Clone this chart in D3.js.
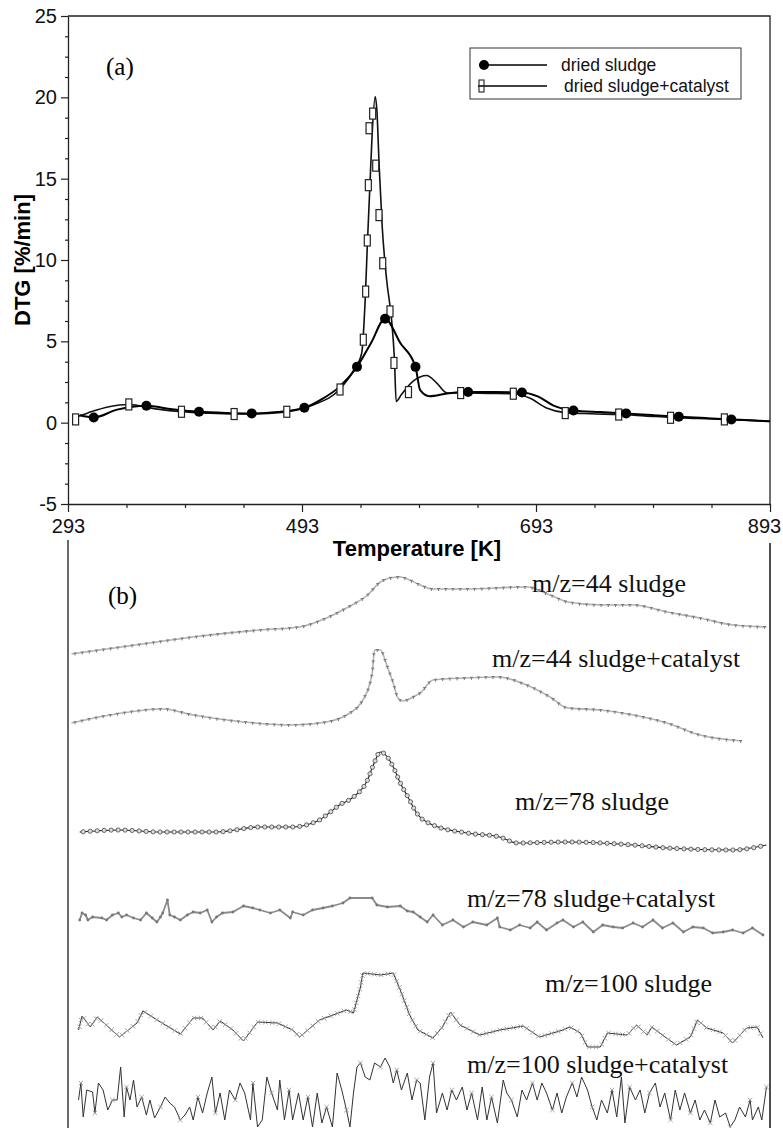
<!DOCTYPE html>
<html>
<head>
<meta charset="utf-8">
<script src="https://cdn.jsdelivr.net/npm/d3@7"></script>
<style>
  body { margin: 0; background: #fff; }
  svg { display: block; }
</style>
</head>
<body>
<div id="chart"></div>
<script>
// ---- panel (a) data: DTG [%/min] vs temperature [K]
var sludgeT = [303, 315, 335, 360, 382, 405, 428, 450, 472, 495, 510, 525, 540, 552, 564, 577, 590, 594, 602, 617, 635, 658, 681, 695, 708, 725, 748, 770, 792, 815, 838, 860, 876, 893];
var sludgeV = [0.45, 0.32, 0.8, 1.04, 0.82, 0.67, 0.6, 0.57, 0.65, 0.92, 1.45, 2.2, 3.43, 4.9, 6.39, 4.9, 3.43, 2.0, 1.63, 1.8, 1.88, 1.88, 1.86, 1.6, 1.05, 0.75, 0.65, 0.57, 0.47, 0.37, 0.28, 0.2, 0.15, 0.08];
var sludgeMarkT = [315, 360, 405, 450, 495, 540, 564, 590, 635, 681, 725, 770, 815, 860];
var sludgeMarkV = [0.32, 1.04, 0.67, 0.57, 0.92, 3.43, 6.39, 3.43, 1.88, 1.86, 0.75, 0.57, 0.37, 0.2];

var catT = [298, 310, 328, 345, 368, 390, 412, 435, 458, 480, 503, 525, 537, 544, 547, 549, 551, 553, 555.6, 557, 559, 561.6, 565.3, 569.6, 572, 573.5, 578, 588, 599.6, 608, 617, 629, 652, 674, 688, 702, 718, 740, 764, 786, 808, 831, 854, 875, 893];
var catV = [0.3, 0.6, 0.98, 1.12, 0.85, 0.67, 0.58, 0.53, 0.55, 0.67, 1.1, 2.04, 3.2, 4.27, 7.55, 11.2, 14.5, 17.8, 20.05, 19.2, 15.7, 12.0, 8.8, 6.3, 3.9, 1.3, 1.73, 2.55, 2.9, 2.45, 1.82, 1.82, 1.8, 1.78, 1.5, 0.9, 0.62, 0.55, 0.5, 0.42, 0.32, 0.26, 0.2, 0.14, 0.08];
var catMarkT = [299.5, 345, 390, 435, 480, 525.5, 545.4, 547.4, 548.8, 549.7, 550.3, 553.4, 556, 558.8, 562, 568.2, 571.6, 584, 628.6, 673.6, 718, 763.7, 808, 854];
var catMarkV = [0.2, 1.12, 0.67, 0.53, 0.67, 2.04, 5.1, 8.06, 11.2, 14.6, 18.1, 19.0, 15.8, 12.76, 9.8, 6.84, 3.67, 1.88, 1.82, 1.78, 0.59, 0.5, 0.3, 0.2];

var legendNames = ["dried sludge", "dried sludge+catalyst"];
var xMajor = [293, 493, 693, 893];
var xMinor = [343, 393, 443, 543, 593, 643, 743, 793, 843];
var yMajor = [-5, 0, 5, 10, 15, 20, 25];
var yMinor = [-3.75, -2.5, -1.25, 1.25, 2.5, 3.75, 6.25, 7.5, 8.75, 11.25, 12.5, 13.75, 16.25, 17.5, 18.75, 21.25, 22.5, 23.75];

// ---- panel (b) data: MS ion currents, arbitrary units
var mz44T = [296, 363, 400, 457, 491, 514, 531, 549, 560, 568, 577, 583, 594, 605, 634, 685, 705, 720, 748, 776, 805, 833, 861, 890];
var mz44V = [6, 17, 23, 30, 33, 42, 52, 65, 78, 82, 83, 81, 75, 71, 71, 73, 65, 58, 55, 55, 48, 42, 35, 33];

var mz44cT = [296, 329, 374, 400, 443, 485, 514, 531, 545, 553, 555, 560, 566, 571, 575, 579, 588, 594, 605, 634, 660, 685, 705, 720, 748, 776, 805, 833, 869];
var mz44cV = [22, 30, 36, 30, 23, 20, 23, 30, 45, 72, 95, 95, 78, 62, 47, 44, 48, 52, 65, 67, 68, 60, 48, 37, 35, 30, 22, 10, 4];

var mz78T = [303, 337, 372, 420, 457, 485, 502, 508, 514, 525, 537, 549, 554, 560, 566, 571, 577, 584, 591, 605, 634, 662, 677, 719, 776, 805, 861, 890];
var mz78V = [23, 25, 23, 23, 28, 28, 32, 35, 40, 50, 58, 75, 90, 103, 98, 88, 72, 57, 42, 30, 22, 18, 12, 13, 10, 7, 5, 10];

var mz78cT = [303, 305, 308, 310, 314, 322, 326, 331, 336, 339, 343, 349, 355, 360, 365, 369, 372, 374, 378, 380, 384, 389, 395, 400, 406, 412, 416, 420, 425, 434, 443, 451, 457, 466, 474, 483, 485, 494, 502, 511, 519, 528, 534, 553, 557, 566, 577, 583, 588, 594, 600, 605, 613, 622, 631, 639, 651, 660, 662, 671, 679, 688, 694, 702, 711, 716, 725, 733, 742, 750, 759, 767, 776, 784, 793, 801, 810, 819, 827, 836, 844, 853, 861, 870, 878, 887];
var mz78cV = [20, 27, 25, 20, 23, 22, 20, 25, 27, 23, 25, 22, 20, 27, 22, 18, 23, 27, 40, 25, 23, 20, 25, 28, 27, 30, 18, 23, 27, 28, 34, 32, 30, 27, 30, 22, 28, 25, 30, 32, 34, 37, 42, 42, 35, 33, 34, 29, 28, 23, 18, 25, 15, 20, 13, 18, 15, 22, 13, 10, 15, 12, 18, 10, 17, 20, 13, 18, 8, 15, 13, 12, 17, 13, 20, 12, 17, 8, 13, 12, 7, 8, 10, 7, 12, 5];

var mz100T = [302, 305, 312, 318, 337, 352, 357, 372, 389, 400, 408, 417, 423, 434, 443, 455, 472, 485, 491, 508, 531, 537, 543, 545, 560, 571, 577, 585, 592, 605, 613, 620, 628, 645, 662, 682, 696, 716, 722, 731, 737, 748, 754, 771, 779, 788, 792, 801, 813, 825, 831, 839, 853, 861, 873, 882, 887];
var mz100V = [20, 34, 23, 33, 13, 27, 39, 28, 16, 32, 32, 20, 29, 20, 9, 28, 27, 20, 13, 30, 40, 37, 63, 77, 75, 77, 60, 35, 20, 12, 23, 38, 25, 15, 20, 24, 13, 20, 23, 17, 3, 3, 17, 15, 25, 15, 23, 15, 5, 13, 30, 22, 17, 7, 22, 23, 12];

var mz100cT = [302, 304, 306, 309, 314, 316, 319, 323, 327, 331, 335, 338, 341, 343, 346, 349, 352, 356, 360, 363, 367, 372, 376, 380, 384, 389, 393, 397, 400, 404, 408, 412, 416, 419, 423, 427, 431, 436, 440, 444, 449, 451, 455, 459, 463, 467, 472, 474, 478, 482, 485, 490, 494, 498, 502, 506, 510, 514, 519, 523, 527, 531, 534, 537, 540, 543, 547, 551, 555, 560, 564, 568, 571, 574, 578, 583, 587, 591, 594, 598, 602, 605, 608, 613, 617, 621, 625, 630, 634, 638, 643, 647, 651, 655, 660, 665, 668, 672, 677, 681, 685, 690, 694, 698, 702, 707, 711, 715, 719, 724, 728, 732, 737, 741, 745, 749, 754, 758, 762, 766, 769, 773, 778, 782, 786, 790, 795, 799, 803, 808, 812, 816, 820, 825, 829, 833, 837, 842, 846, 850, 855, 859, 863, 867, 872, 876, 878, 883, 886, 890];
var mz100cV = [30, 47, 13, 40, 38, 17, 47, 40, 20, 30, 30, 63, 13, 43, 30, 50, 23, 33, 15, 30, 12, 23, 33, 27, 23, 10, 15, 23, 10, 33, 17, 37, 53, 17, 37, 10, 40, 30, 47, 37, 10, 47, 3, 10, 53, 37, 20, 50, 10, 40, 10, 37, 10, 33, 3, 37, 7, 23, 3, 57, 40, 20, 3, 37, 63, 67, 53, 50, 67, 63, 72, 63, 47, 60, 40, 57, 30, 50, 47, 10, 53, 67, 17, 37, 20, 40, 30, 43, 20, 37, 10, 43, 10, 33, 7, 50, 37, 30, 13, 40, 30, 47, 30, 47, 37, 20, 37, 17, 33, 47, 33, 53, 40, 23, 10, 30, 17, 40, 13, 53, 7, 43, 30, 40, 17, 37, 47, 23, 37, 10, 40, 20, 37, 17, 30, 10, 20, 7, 30, 13, 17, 3, 10, 23, 13, 30, 10, 23, 10, 43];

var msLabels = ["m/z=44 sludge", "m/z=44 sludge+catalyst", "m/z=78 sludge", "m/z=78 sludge+catalyst", "m/z=100 sludge", "m/z=100 sludge+catalyst"];

function zip(T, V) { return T.map(function (t, i) { return { t: t, v: V[i] }; }); }

var W = 783, H = 1128;
var sans = "'Liberation Sans', Arial, Helvetica, sans-serif";
var serif = "'Liberation Serif', 'Times New Roman', serif";

var svg = d3.select("#chart").append("svg")
    .attr("width", W)
    .attr("height", H)
    .style("background", "#fff");

// plot box of panel (a)
var pLeft = 68, pRight = 770, pTop = 16, pBottom = 504;

var x = d3.scaleLinear().domain([293, 893]).range([pLeft, pRight]);
var y = d3.scaleLinear().domain([-5, 25]).range([pBottom, pTop]);

// ---------- panel (a) ----------
var pa = svg.append("g");

// frame top / right
pa.append("path")
    .attr("d", "M" + pLeft + "," + pTop + "H" + pRight + "V" + pBottom)
    .attr("fill", "none").attr("stroke", "#222").attr("stroke-width", 1.3);

var xAxis = pa.append("g")
    .attr("transform", "translate(0," + pBottom + ")")
    .call(d3.axisBottom(x).tickValues(xMajor).tickSize(8).tickPadding(7).tickSizeOuter(0)
        .tickFormat(function (d) { return String(d); }));
var xMinorAxis = pa.append("g")
    .attr("transform", "translate(0," + pBottom + ")")
    .call(d3.axisBottom(x).tickValues(xMinor).tickSize(4).tickFormat(""));
xMinorAxis.select(".domain").remove();

var yAxis = pa.append("g")
    .attr("transform", "translate(" + pLeft + ",0)")
    .call(d3.axisLeft(y).tickValues(yMajor).tickSize(7).tickPadding(4).tickSizeOuter(0)
        .tickFormat(function (d) { return String(d); }));
var yMinorAxis = pa.append("g")
    .attr("transform", "translate(" + pLeft + ",0)")
    .call(d3.axisLeft(y).tickValues(yMinor).tickSize(3).tickFormat(""));
yMinorAxis.select(".domain").remove();

pa.selectAll(".domain").attr("stroke", "#222").attr("stroke-width", 1.3);
pa.selectAll(".tick line").attr("stroke", "#222").attr("stroke-width", 1.2);
pa.selectAll(".tick text")
    .attr("font-family", sans)
    .attr("font-size", 20)
    .attr("fill", "#111");
// last x label is pulled in a little, as in the original
xAxis.selectAll(".tick text").filter(function (d) { return d == 893; }).attr("dx", -6);

// axis titles
pa.append("text")
    .attr("transform", "translate(30," + ((pTop + pBottom) / 2) + ") rotate(-90)")
    .attr("text-anchor", "middle")
    .attr("font-family", sans)
    .attr("font-weight", "bold")
    .attr("font-size", 22)
    .text("DTG [%/min]");

pa.append("text")
    .attr("x", 417)
    .attr("y", 556)
    .attr("text-anchor", "middle")
    .attr("font-family", sans)
    .attr("font-weight", "bold")
    .attr("font-size", 22)
    .text("Temperature [K]");

pa.append("text")
    .attr("x", 106)
    .attr("y", 75)
    .attr("font-family", serif)
    .attr("font-size", 25)
    .text("(a)");

var lineA = d3.line()
    .x(function (d) { return x(d.t); })
    .y(function (d) { return y(d.v); })
    .curve(d3.curveMonotoneX);

pa.append("path")
    .datum(zip(catT, catV))
    .attr("d", lineA)
    .attr("fill", "none")
    .attr("stroke", "#111")
    .attr("stroke-width", 1.6);

pa.append("path")
    .datum(zip(sludgeT, sludgeV))
    .attr("d", lineA)
    .attr("fill", "none")
    .attr("stroke", "#000")
    .attr("stroke-width", 2);

pa.selectAll(".sq")
    .data(zip(catMarkT, catMarkV))
    .enter().append("rect")
    .attr("class", "sq")
    .attr("x", function (d) { return x(d.t) - 3; })
    .attr("y", function (d) { return y(d.v) - 5.5; })
    .attr("width", 6)
    .attr("height", 11)
    .attr("fill", "#fff")
    .attr("stroke", "#222")
    .attr("stroke-width", 1.2);

pa.selectAll(".dot")
    .data(zip(sludgeMarkT, sludgeMarkV))
    .enter().append("circle")
    .attr("class", "dot")
    .attr("cx", function (d) { return x(d.t); })
    .attr("cy", function (d) { return y(d.v); })
    .attr("r", 5)
    .attr("fill", "#000");

// legend
var lg = pa.append("g").attr("transform", "translate(470,48)");
lg.append("rect")
    .attr("width", 271).attr("height", 51)
    .attr("fill", "#fff").attr("stroke", "#333").attr("stroke-width", 1);
lg.append("line").attr("x1", 9).attr("x2", 77).attr("y1", 17).attr("y2", 17)
    .attr("stroke", "#000").attr("stroke-width", 1.5);
lg.append("circle").attr("cx", 14).attr("cy", 17).attr("r", 5).attr("fill", "#000");
lg.append("line").attr("x1", 8).attr("x2", 77).attr("y1", 38).attr("y2", 38)
    .attr("stroke", "#000").attr("stroke-width", 1.5);
lg.append("rect").attr("x", 9).attr("y", 32).attr("width", 5).attr("height", 12)
    .attr("fill", "none").attr("stroke", "#222").attr("stroke-width", 1.1);
lg.selectAll(".lt")
    .data(legendNames)
    .enter().append("text")
    .attr("x", function (d, i) { return i == 0 ? 91 : 94; })
    .attr("y", function (d, i) { return i == 0 ? 23 : 44; })
    .attr("font-family", sans)
    .attr("font-size", 17.5)
    .attr("fill", "#111")
    .text(function (d) { return d; });

// ---------- panel (b) ----------
var pb = svg.append("g");

pb.append("line").attr("x1", pLeft).attr("x2", pLeft).attr("y1", 540).attr("y2", H)
    .attr("stroke", "#444").attr("stroke-width", 1.6);
pb.append("line").attr("x1", pRight).attr("x2", pRight).attr("y1", 543).attr("y2", H)
    .attr("stroke", "#222").attr("stroke-width", 1.6);

pb.append("text")
    .attr("x", 108)
    .attr("y", 604)
    .attr("font-family", serif)
    .attr("font-size", 25)
    .text("(b)");

// each trace sits in its own band; base = pixel row of zero signal
var traces = [
    { T: mz44T,   V: mz44V,   base: 660,  curve: d3.curveMonotoneX, stroke: "#b4b4b4", sw: 1.6, mark: "tri",    step: 7.2 },
    { T: mz44cT,  V: mz44cV,  base: 745,  curve: d3.curveMonotoneX, stroke: "#b4b4b4", sw: 1.6, mark: "tri",    step: 7.2 },
    { T: mz78T,   V: mz78V,   base: 855,  curve: d3.curveMonotoneX, stroke: "#222",    sw: 1.1, mark: "circle", step: 7.0 },
    { T: mz78cT,  V: mz78cV,  base: 940,  curve: d3.curveLinear,    stroke: "#8a8a8a", sw: 1.8, mark: "pt",     step: 0 },
    { T: mz100T,  V: mz100V,  base: 1050, curve: d3.curveLinear,    stroke: "#333",    sw: 1.0, mark: "cross",  step: 7.0 },
    { T: mz100cT, V: mz100cV, base: 1130, curve: d3.curveLinear,    stroke: "#333",    sw: 1.0, mark: "xpt",    step: 0 }
];
var labelPos = [[532, 592], [492, 667], [515, 810], [467, 907], [545, 992], [467, 1073]];

traces.forEach(function (tr, k) {
    var yb = d3.scaleLinear().domain([0, 100]).range([tr.base, tr.base - 100]);
    var data = zip(tr.T, tr.V);
    var line = d3.line()
        .x(function (d) { return x(d.t); })
        .y(function (d) { return yb(d.v); })
        .curve(tr.curve);
    var g = pb.append("g");
    var p = g.append("path")
        .datum(data)
        .attr("d", line)
        .attr("fill", "none")
        .attr("stroke", tr.stroke)
        .attr("stroke-width", tr.sw)
        .attr("stroke-linejoin", "round");

    var pts = [];
    if (tr.step > 0) {
        var node = p.node(), L = node.getTotalLength();
        for (var s = tr.step * 0.5; s <= L; s += tr.step) {
            var q = node.getPointAtLength(s);
            pts.push({ x: q.x, y: q.y });
        }
    } else {
        data.forEach(function (d, i) {
            if (tr.mark == "pt" || i % 4 == 1) pts.push({ x: x(d.t), y: yb(d.v) });
        });
    }

    if (tr.mark == "tri") {
        g.selectAll(".m").data(pts).enter().append("path")
            .attr("d", function (d) { return "M" + (d.x - 1.6) + "," + (d.y - 0.5) + "H" + (d.x + 1.6) + "M" + d.x + "," + (d.y - 0.5) + "V" + (d.y + 2); })
            .attr("stroke", "#777").attr("stroke-width", 1).attr("fill", "none");
    } else if (tr.mark == "circle") {
        g.selectAll(".m").data(pts).enter().append("circle")
            .attr("cx", function (d) { return d.x; })
            .attr("cy", function (d) { return d.y; })
            .attr("r", 2.1)
            .attr("fill", "#ddd").attr("stroke", "#444").attr("stroke-width", 0.8);
    } else if (tr.mark == "pt") {
        g.selectAll(".m").data(pts).enter().append("circle")
            .attr("cx", function (d) { return d.x; })
            .attr("cy", function (d) { return d.y; })
            .attr("r", 1.4)
            .attr("fill", "#777");
    } else {
        g.selectAll(".m").data(pts).enter().append("path")
            .attr("d", function (d) { return "M" + (d.x - 2.2) + "," + (d.y - 2.2) + "L" + (d.x + 2.2) + "," + (d.y + 2.2) + "M" + (d.x - 2.2) + "," + (d.y + 2.2) + "L" + (d.x + 2.2) + "," + (d.y - 2.2); })
            .attr("stroke", "#999").attr("stroke-width", 0.9).attr("fill", "none");
    }

    pb.append("text")
        .attr("x", labelPos[k][0])
        .attr("y", labelPos[k][1])
        .attr("font-family", serif)
        .attr("font-size", 26)
        .attr("fill", "#111")
        .text(msLabels[k]);
});
</script>
</body>
</html>
